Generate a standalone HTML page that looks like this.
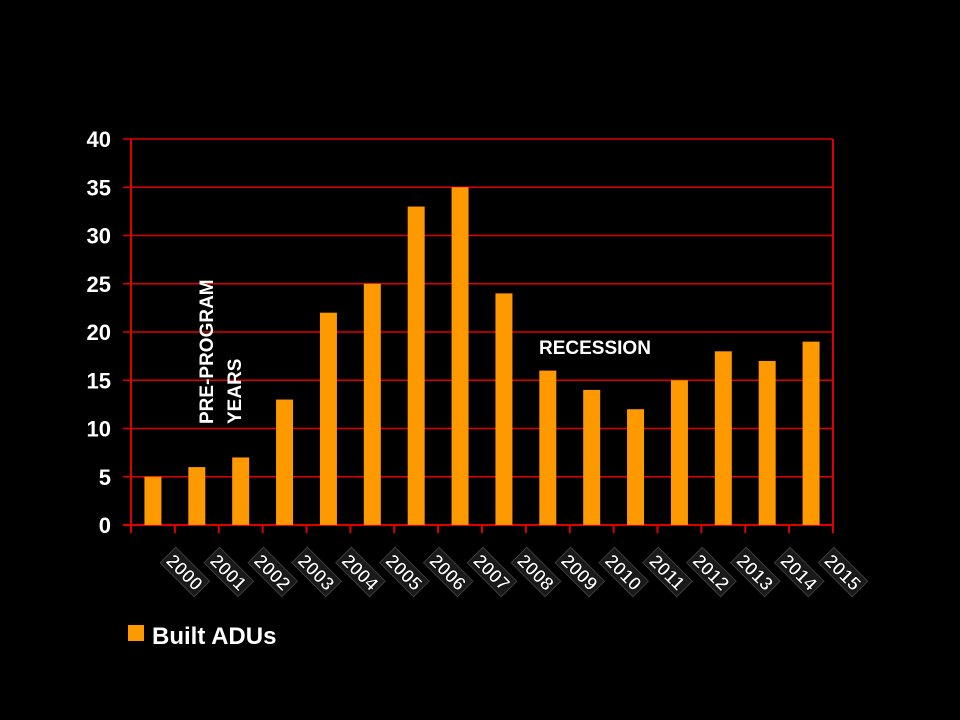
<!DOCTYPE html>
<html><head><meta charset="utf-8"><style>
html,body{margin:0;padding:0;background:#000;}
svg{display:block;font-family:"Liberation Sans",Arial,sans-serif;font-weight:bold;}
</style></head><body>
<svg width="960" height="720" viewBox="0 0 960 720">
<rect width="960" height="720" fill="#000"/>
<g id="grid"></g>
<g id="bars"></g>
<g id="axes"></g>
<g id="ylabels"></g>
<g id="xlabels"></g>
<text transform="translate(213,424) rotate(-90)" fill="#fff" font-size="19">PRE-PROGRAM</text>
<text transform="translate(241,424) rotate(-90)" fill="#fff" font-size="19">YEARS</text>
<text x="539" y="354" fill="#fff" font-size="19">RECESSION</text>
<g>
<rect x="128" y="625" width="16" height="16" fill="#ff9900"/>
<text x="152" y="644" fill="#fff" font-size="24">Built ADUs</text>
</g>
</svg>
<script>
const categories=["2000","2001","2002","2003","2004","2005","2006","2007","2008","2009","2010","2011","2012","2013","2014","2015"];
const values=[5,6,7,13,22,25,33,35,24,16,14,12,15,18,17,19];
const yTicks=[0,5,10,15,20,25,30,35,40];
const NS="http://www.w3.org/2000/svg";
const L=131,R=833,T=139,B=525,yMax=40;
const cw=(R-L)/categories.length;
const y=v=>B-(v/yMax)*(B-T);
const xc=i=>L+cw*(i+0.5);
function mk(tag,attrs,parent){const e=document.createElementNS(NS,tag);for(const k in attrs)e.setAttribute(k,attrs[k]);parent.appendChild(e);return e;}
const grid=document.getElementById('grid'),bars=document.getElementById('bars'),axes=document.getElementById('axes'),yl=document.getElementById('ylabels'),xl=document.getElementById('xlabels');
yTicks.forEach(t=>{
  const ln=mk('line',{x1:L-8,x2:R,y1:y(t),y2:y(t),stroke:'#e00000','stroke-width':t===0?2:1.5},grid);
  
  
  const tx=mk('text',{x:L-20,y:y(t)+8,fill:'#fff','font-size':22,'text-anchor':'end'},yl);
  tx.textContent=t;
  
  
});
const va=mk('line',{x1:L,x2:L,y1:T,y2:B+8,stroke:'#e00000','stroke-width':2},axes);


const ra=mk('line',{x1:R,x2:R,y1:T,y2:B,stroke:'#e00000','stroke-width':2},axes);


categories.forEach((c,i)=>{
  const bw=17;
  const r=mk('rect',{x:xc(i)-bw/2,y:y(values[i]),width:bw,height:B-y(values[i]),fill:'#ff9900'},bars);
  
  
  const tk=mk('line',{x1:L+cw*(i+1),x2:L+cw*(i+1),y1:B,y2:B+8,stroke:'#e00000','stroke-width':2},axes);
  
  
  const cx=xc(i)+32,cy=572;
  const g=mk('g',{transform:`translate(${cx},${cy}) rotate(45)`},xl);
  
  
  mk('rect',{x:-24,y:-11,width:48,height:22,fill:'#1a1a1a',stroke:'#444','stroke-width':0.8},g);
  const tx=mk('text',{x:0,y:7,fill:'#fff','font-size':19,'text-anchor':'middle',stroke:'#000','stroke-width':0.6},g);
  tx.textContent=c;
});
</script>
</body></html>
